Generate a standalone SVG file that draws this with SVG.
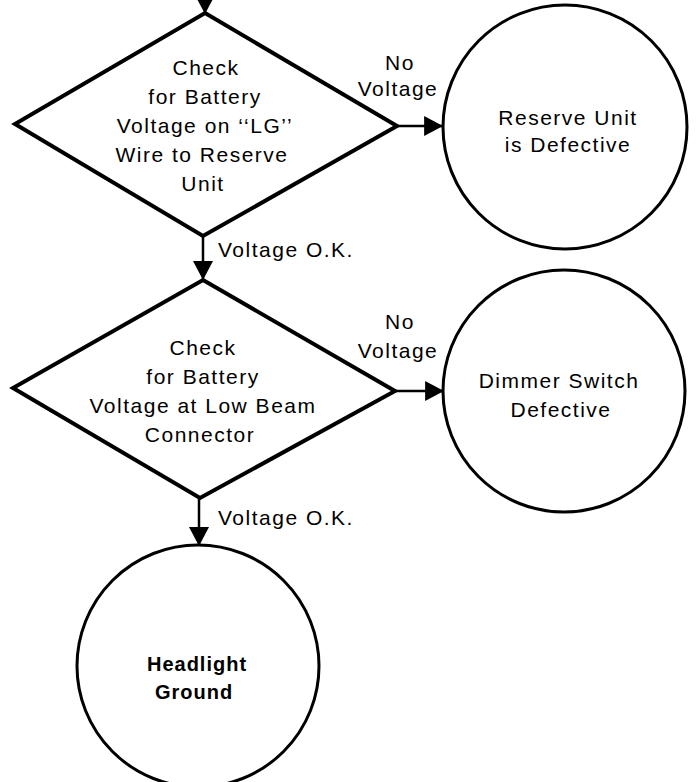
<svg xmlns="http://www.w3.org/2000/svg" width="697" height="782" viewBox="0 0 697 782">
<defs>
<marker id="ah" markerUnits="userSpaceOnUse" markerWidth="20" markerHeight="20" viewBox="0 0 17 18" refX="17" refY="9" orient="auto">
<path d="M0,0 L17,9 L0,18 Z" fill="#000"/>
</marker>
</defs>
<style>
.shape{fill:#fff;stroke:#000;stroke-linejoin:miter}
.dia{stroke-width:4}
.circ{stroke-width:3}
.conn{fill:none;stroke:#000;stroke-width:2.5;marker-end:url(#ah)}
text{font-family:"Liberation Sans",Arial,sans-serif;font-size:21px;letter-spacing:1.5px;fill:#000}
.c{text-anchor:middle}
.b{font-weight:bold;letter-spacing:1px;font-size:20px}
</style>
<rect width="697" height="782" fill="#fff"/>
<g id="connectors">
<path class="conn" d="M205,-10 L205,14"/>
<path class="conn" d="M397,126 L443,126"/>
<path class="conn" d="M203,237 L203,280"/>
<path class="conn" d="M395,391 L444,391"/>
<path class="conn" d="M199,498 L199,546"/>
</g>
<g id="labels">
<text class="c" x="400" y="70">No</text>
<text class="c" x="398" y="96">Voltage</text>
<text x="218" y="257">Voltage O.K.</text>
<text class="c" x="400" y="329">No</text>
<text class="c" x="398" y="358">Voltage</text>
<text x="218" y="525">Voltage O.K.</text>
</g>
<g id="decision1">
<polygon class="shape dia" points="205,13 397,126 203,236 15,124"/>
<text class="c" x="206" y="75">Check</text>
<text class="c" x="205" y="104">for Battery</text>
<text class="c" x="205" y="133">Voltage on ‘‘LG’’</text>
<text class="c" x="202" y="162">Wire to Reserve</text>
<text class="c" x="203" y="191">Unit</text>
</g>
<g id="result1">
<circle class="shape circ" cx="565" cy="127" r="122"/>
<text class="c" x="568" y="125">Reserve Unit</text>
<text class="c" x="568" y="152">is Defective</text>
</g>
<g id="decision2">
<polygon class="shape dia" points="203,280 395,391 200,498 13,388"/>
<text class="c" x="203" y="355">Check</text>
<text class="c" x="203" y="384">for Battery</text>
<text class="c" x="203" y="413">Voltage at Low Beam</text>
<text class="c" x="200" y="442">Connector</text>
</g>
<g id="result2">
<circle class="shape circ" cx="564" cy="391" r="121"/>
<text class="c" x="559" y="388">Dimmer Switch</text>
<text class="c" x="561" y="417">Defective</text>
</g>
<g id="result3">
<circle class="shape circ" cx="198" cy="666" r="121"/>
<text class="c b" x="197" y="671">Headlight</text>
<text class="c b" x="194" y="699">Ground</text>
</g>
</svg>
